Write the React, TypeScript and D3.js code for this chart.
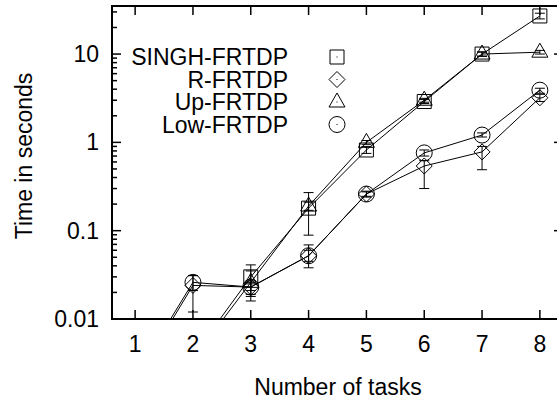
import React from "react";
import * as d3 from "d3";

const tasks = [1, 2, 3, 4, 5, 6, 7, 8];
const seriesNames = ["SINGH-FRTDP", "R-FRTDP", "Up-FRTDP", "Low-FRTDP"];
const singhVals = [0.0015, 0.0038, 0.030, 0.18, 0.82, 2.9, 10, 27];
const singhLo = [0.0015, 0.0035, 0.018, 0.089, 0.75, 2.75, 9.4, 25];
const singhHi = [0.0015, 0.0041, 0.041, 0.27, 0.9, 3.05, 10.6, 29];
const rVals = [0.002, 0.024, 0.023, 0.052, 0.26, 0.54, 0.78, 3.2];
const rLo = [0.0018, 0.012, 0.019, 0.045, 0.24, 0.30, 0.49, 2.9];
const rHi = [0.0022, 0.031, 0.027, 0.06, 0.28, 0.62, 0.9, 3.5];
const upVals = [0.0015, 0.0035, 0.026, 0.19, 1.0, 3.0, 10, 10.5];
const upLo = [0.0015, 0.0033, 0.016, 0.17, 0.95, 2.85, 9.5, 10];
const upHi = [0.0015, 0.0037, 0.035, 0.21, 1.05, 3.15, 10.5, 11];
const lowVals = [0.0022, 0.026, 0.023, 0.052, 0.26, 0.76, 1.21, 3.9];
const lowLo = [0.002, 0.021, 0.021, 0.038, 0.245, 0.7, 1.15, 3.6];
const lowHi = [0.0024, 0.031, 0.026, 0.069, 0.275, 0.82, 1.28, 4.1];
const yTickVals = [0.01, 0.1, 1, 10];
const yTickLabels = ["0.01", "0.1", "1", "10"];
const xLabel = "Number of tasks";
const yLabel = "Time in seconds";

const W = 557;
const H = 403;
const FONT = "'Liberation Sans', Arial, sans-serif";

type Sym = "square" | "diamond" | "triangle" | "circle";

function symbolPath(t: Sym, cx: number, cy: number): string {
  if (t === "square") {
    const s = 7;
    return `M${cx - s},${cy - s}H${cx + s}V${cy + s}H${cx - s}Z`;
  }
  if (t === "diamond") {
    const s = 8;
    return `M${cx},${cy - s}L${cx + s},${cy}L${cx},${cy + s}L${cx - s},${cy}Z`;
  }
  if (t === "triangle") {
    return `M${cx},${cy - 9}L${cx + 8},${cy + 5}L${cx - 8},${cy + 5}Z`;
  }
  const r = 8;
  return `M${cx + r},${cy}A${r},${r} 0 1,1 ${cx - r},${cy}A${r},${r} 0 1,1 ${cx + r},${cy}Z`;
}

export default function App() {
  const x = d3.scaleLinear().domain([0.6, 8.4]).range([112, 563]);
  const y = d3.scaleLog().domain([0.01, 35]).range([319, 6]);

  const series = [
    { name: seriesNames[0], vals: singhVals, lo: singhLo, hi: singhHi, sym: "square" as Sym },
    { name: seriesNames[1], vals: rVals, lo: rLo, hi: rHi, sym: "diamond" as Sym },
    { name: seriesNames[2], vals: upVals, lo: upLo, hi: upHi, sym: "triangle" as Sym },
    { name: seriesNames[3], vals: lowVals, lo: lowLo, hi: lowHi, sym: "circle" as Sym },
  ];

  const line = d3
    .line<number>()
    .x((_, i) => x(tasks[i]))
    .y((v) => y(v));

  const [x0, x1] = x.range();
  const [yb, yt] = y.range();

  const minor: number[] = [];
  for (let e = -2; e <= 1; e++) {
    for (let m = 2; m <= 9; m++) {
      const v = m * Math.pow(10, e);
      if (v < 35) minor.push(v);
    }
  }

  const legendRowY = [57, 79.5, 102, 124.5];

  return (
    <svg
      width={W}
      height={H}
      style={{ position: "absolute", left: 0, top: 0, background: "#fff" }}
      fontFamily={FONT}
    >
      <defs>
        <clipPath id="plotclip">
          <rect x={x0} y={yt} width={x1 - x0} height={yb - yt} />
        </clipPath>
      </defs>
      <rect x={0} y={0} width={W} height={H} fill="#fff" />

      <g stroke="#000" strokeWidth={1.5}>
        {tasks.map((t) => (
          <g key={"xt" + t}>
            <line x1={x(t)} x2={x(t)} y1={yb} y2={yb - 9} />
            <line x1={x(t)} x2={x(t)} y1={yt} y2={yt + 9} />
          </g>
        ))}
        {yTickVals.map((v) => (
          <g key={"yt" + v}>
            <line x1={x0} x2={x0 + 9} y1={y(v)} y2={y(v)} />
            <line x1={x1} x2={x1 - 9} y1={y(v)} y2={y(v)} />
          </g>
        ))}
        {minor.map((v) => (
          <line key={"mn" + v} x1={x0} x2={x0 + 5} y1={y(v)} y2={y(v)} />
        ))}
      </g>

      <g fontSize={23} fill="#000">
        {tasks.map((t) => (
          <text key={"xl" + t} x={x(t)} y={352} textAnchor="middle">
            {t}
          </text>
        ))}
        {yTickVals.map((v, i) => (
          <text key={"yl" + v} x={99} y={y(v) + 8} textAnchor="end">
            {yTickLabels[i]}
          </text>
        ))}
      </g>

      <text x={338} y={395} fontSize={23} textAnchor="middle">
        {xLabel}
      </text>
      <text
        transform={`translate(32,156) rotate(-90)`}
        fontSize={23}
        textAnchor="middle"
      >
        {yLabel}
      </text>

      <g clipPath="url(#plotclip)" fill="none" stroke="#000" strokeWidth={1}>
        {series.map((s) => (
          <g key={s.name}>
            <path d={line(s.vals) || ""} />
            {s.vals.map((v, i) => {
              const cx = x(tasks[i]);
              return (
                <g key={i}>
                  <line x1={cx} x2={cx} y1={y(s.lo[i])} y2={y(s.hi[i])} />
                  <line x1={cx - 5} x2={cx + 5} y1={y(s.lo[i])} y2={y(s.lo[i])} />
                  <line x1={cx - 5} x2={cx + 5} y1={y(s.hi[i])} y2={y(s.hi[i])} />
                  <path d={symbolPath(s.sym, cx, y(v))} />
                </g>
              );
            })}
          </g>
        ))}
      </g>

      <g fontSize={23}>
        {series.map((s, i) => (
          <g key={"lg" + s.name}>
            <text x={288} y={legendRowY[i] + 8} textAnchor="end">
              {s.name}
            </text>
            <path d={symbolPath(s.sym, 337, legendRowY[i])} fill="none" stroke="#000" strokeWidth={1} />
            <rect x={336.5} y={legendRowY[i] - 0.5} width={1} height={1} fill="#000" />
          </g>
        ))}
      </g>

      <rect
        x={x0}
        y={yt}
        width={x1 - x0}
        height={yb - yt}
        fill="none"
        stroke="#000"
        strokeWidth={2}
      />
    </svg>
  );
}
